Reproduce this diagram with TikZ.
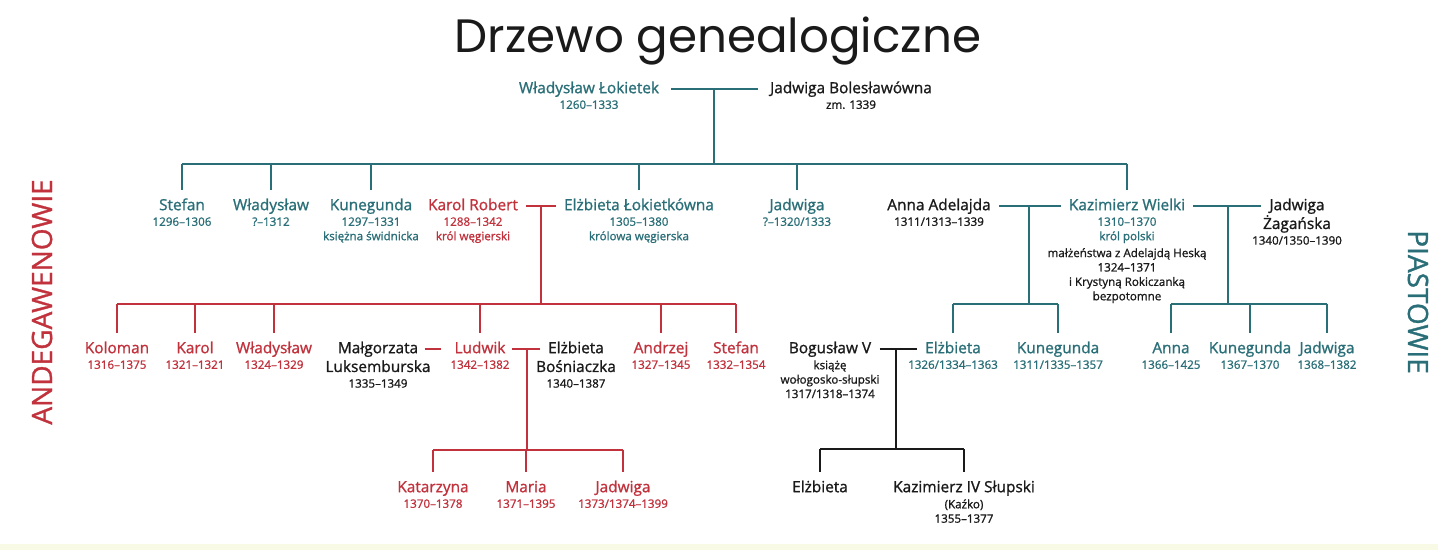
\documentclass[tikz,border=0pt]{standalone}
\usepackage{fontspec}
\setmainfont{Open Sans}[FakeBold=1.1]
\newfontfamily\titlefont{Poppins}
\usetikzlibrary{positioning}

\definecolor{piast}{HTML}{2A6F78}
\definecolor{andeg}{HTML}{C1323D}
\definecolor{ink}{HTML}{1A1A1A}
\definecolor{strip}{HTML}{F8FAE6}

\begin{document}
\begin{tikzpicture}[
  x=0.5pt, y=-0.5pt,
  pname/.style={font=\fontsize{7.7}{9}\selectfont, inner sep=1pt, text height=5.8pt, text depth=1.6pt},
  pinfo/.style={font=\fontsize{5.8}{7.2}\selectfont, align=center, inner sep=0pt},
  side/.style={font=\fontsize{14}{16}\selectfont},
  tline/.style={draw=piast, line width=0.8pt},
  rline/.style={draw=andeg, line width=0.8pt},
  kline/.style={draw=ink, line width=0.8pt},
  marr/.style={shorten <=3pt, shorten >=3pt},
  drop/.style={shorten >=3pt}
]
\useasboundingbox (0,0) rectangle (1438,550);
\fill[white] (0,0) rectangle (1438,550);
\fill[strip] (0,544) rectangle (1438,550);

% Title and side labels
\node[font=\titlefont\fontsize{23.4}{28}\selectfont, text=ink] (title) at (718,41) {Drzewo genealogiczne};
\node[side, text=andeg, rotate=90] (andeg-lab) at (42,302) {ANDEGAWENOWIE};
\node[side, text=piast, rotate=-90] (piast-lab) at (1418,302) {PIASTOWIE};

% First couple
\node[pname, text=piast] (lokietek) at (589,89) {Władysław Łokietek};
\node[pinfo, text=piast, below=0.6pt of lokietek] (lokietek-i) {1260–1333};
\node[pname, text=ink] (jadbol) at (851,89) {Jadwiga Bolesławówna};
\node[pinfo, text=ink, below=0.6pt of jadbol] (jadbol-i) {zm. 1339};

\coordinate (m1) at (714,89);
\coordinate (bar1) at (714,164);
\draw[tline, shorten <=5pt, shorten >=5pt] (lokietek) -- (jadbol);
\draw[tline] (m1) -- (bar1);

% Children of Lokietek
\node[pname, text=piast] (stefan) at (182,206) {Stefan};
\node[pinfo, text=piast, below=0.6pt of stefan] (stefan-i) {1296–1306};
\node[pname, text=piast] (wladys) at (271,206) {Władysław};
\node[pinfo, text=piast, below=0.6pt of wladys] (wladys-i) {?–1312};
\node[pname, text=piast] (kuneg) at (371,206) {Kunegunda};
\node[pinfo, text=piast, below=0.6pt of kuneg] (kuneg-i) {1297–1331\\księżna świdnicka};
\node[pname, text=andeg] (karol) at (473,206) {Karol Robert};
\node[pinfo, text=andeg, below=0.6pt of karol] (karol-i) {1288–1342\\król węgierski};
\node[pname, text=piast] (elzlok) at (639,206) {Elżbieta Łokietkówna};
\node[pinfo, text=piast, below=0.6pt of elzlok] (elzlok-i) {1305–1380\\królowa węgierska};
\node[pname, text=piast] (jadw) at (797,206) {Jadwiga};
\node[pinfo, text=piast, below=0.6pt of jadw] (jadw-i) {?–1320/1333};
\node[pname, text=ink] (anna) at (939,206) {Anna Adelajda};
\node[pinfo, text=ink, below=0.6pt of anna] (anna-i) {1311/1313–1339};
\node[pname, text=piast] (kazw) at (1127,206) {Kazimierz Wielki};
\node[pinfo, text=piast, below=0.6pt of kazw] (kazw-i) {1310–1370\\król polski};
\node[pinfo, text=ink, below=2.2pt of kazw-i] (kazw-n) {małżeństwa z Adelajdą Heską\\1324–1371\\i Krystyną Rokiczanką\\bezpotomne};
\node[pname, text=ink] (jadzag) at (1297,206) {Jadwiga};
\node[pname, text=ink, below=-0.4pt of jadzag] (jadzag-2) {Żagańska};
\node[pinfo, text=ink, below=0.6pt of jadzag-2] (jadzag-i) {1340/1350–1390};

\draw[tline] (stefan.north |- bar1) -- (kazw.north |- bar1);
\foreach \n in {stefan,wladys,kuneg,elzlok,jadw,kazw}
  \draw[tline, drop] (\n.north |- bar1) -- (\n.north);

% Karol Robert + Elzbieta
\coordinate (m2) at (541,206);
\coordinate (bar2) at (541,304);
\draw[rline, marr] (karol) -- (elzlok);
\draw[rline] (m2) -- (bar2);

% Kazimierz + Anna, Kazimierz + Jadwiga
\coordinate (m3) at (1029,206);
\coordinate (bar3) at (1029,304);
\draw[tline, marr] (anna) -- (kazw);
\draw[tline] (m3) -- (bar3);
\coordinate (m6) at (1228,206);
\coordinate (bar6) at (1228,304);
\draw[tline, marr] (kazw) -- (jadzag);
\draw[tline] (m6) -- (bar6);

% Andegawenowie
\node[pname, text=andeg] (kolo) at (117,349) {Koloman};
\node[pinfo, text=andeg, below=0.6pt of kolo] (kolo-i) {1316–1375};
\node[pname, text=andeg] (karolj) at (195,349) {Karol};
\node[pinfo, text=andeg, below=0.6pt of karolj] (karolj-i) {1321–1321};
\node[pname, text=andeg] (wladj) at (274,349) {Władysław};
\node[pinfo, text=andeg, below=0.6pt of wladj] (wladj-i) {1324–1329};
\node[pname, text=ink] (malg) at (378,349) {Małgorzata};
\node[pname, text=ink, below=-0.4pt of malg] (malg-2) {Luksemburska};
\node[pinfo, text=ink, below=0.6pt of malg-2] (malg-i) {1335–1349};
\node[pname, text=andeg] (ludwik) at (480,349) {Ludwik};
\node[pinfo, text=andeg, below=0.6pt of ludwik] (ludwik-i) {1342–1382};
\node[pname, text=ink] (elzbos) at (576,349) {Elżbieta};
\node[pname, text=ink, below=-0.4pt of elzbos] (elzbos-2) {Bośniaczka};
\node[pinfo, text=ink, below=0.6pt of elzbos-2] (elzbos-i) {1340–1387};
\node[pname, text=andeg] (andrzej) at (661,349) {Andrzej};
\node[pinfo, text=andeg, below=0.6pt of andrzej] (andrzej-i) {1327–1345};
\node[pname, text=andeg] (stefj) at (736,349) {Stefan};
\node[pinfo, text=andeg, below=0.6pt of stefj] (stefj-i) {1332–1354};

\draw[rline] (kolo.north |- bar2) -- (stefj.north |- bar2);
\foreach \n in {kolo,karolj,wladj,ludwik,andrzej,stefj}
  \draw[rline, drop] (\n.north |- bar2) -- (\n.north);
\draw[rline, shorten <=2pt, shorten >=5.5pt] (malg) -- (ludwik);

% Ludwik + Elzbieta Bosniaczka
\coordinate (m4) at (527,349);
\coordinate (bar4) at (527,450);
\draw[rline, shorten <=2pt, shorten >=3pt] (ludwik) -- (elzbos);
\draw[rline] (m4) -- (bar4);

\node[pname, text=andeg] (kata) at (433,488) {Katarzyna};
\node[pinfo, text=andeg, below=0.6pt of kata] (kata-i) {1370–1378};
\node[pname, text=andeg] (maria) at (526,488) {Maria};
\node[pinfo, text=andeg, below=0.6pt of maria] (maria-i) {1371–1395};
\node[pname, text=andeg] (jadl) at (623,488) {Jadwiga};
\node[pinfo, text=andeg, below=0.6pt of jadl] (jadl-i) {1373/1374–1399};

\draw[rline] (kata.north |- bar4) -- (jadl.north |- bar4);
\foreach \n in {kata,maria,jadl}
  \draw[rline, drop] (\n.north |- bar4) -- (\n.north);

% Piastowie: daughters of Kazimierz
\node[pname, text=ink] (bogus) at (830,349) {Bogusław V};
\node[pinfo, text=ink, below=0.6pt of bogus] (bogus-i) {książę\\wołogosko-słupski\\1317/1318–1374};
\node[pname, text=piast] (elzb) at (953,349) {Elżbieta};
\node[pinfo, text=piast, below=0.6pt of elzb] (elzb-i) {1326/1334–1363};
\node[pname, text=piast] (kunb) at (1058,349) {Kunegunda};
\node[pinfo, text=piast, below=0.6pt of kunb] (kunb-i) {1311/1335–1357};
\node[pname, text=piast] (annk) at (1171,349) {Anna};
\node[pinfo, text=piast, below=0.6pt of annk] (annk-i) {1366–1425};
\node[pname, text=piast] (kunk) at (1250,349) {Kunegunda};
\node[pinfo, text=piast, below=0.6pt of kunk] (kunk-i) {1367–1370};
\node[pname, text=piast] (jadk) at (1327,349) {Jadwiga};
\node[pinfo, text=piast, below=0.6pt of jadk] (jadk-i) {1368–1382};

\draw[tline] (elzb.north |- bar3) -- (kunb.north |- bar3);
\foreach \n in {elzb,kunb}
  \draw[tline, drop] (\n.north |- bar3) -- (\n.north);
\draw[tline] (annk.north |- bar6) -- (jadk.north |- bar6);
\foreach \n in {annk,kunk,jadk}
  \draw[tline, drop] (\n.north |- bar6) -- (\n.north);

% Boguslaw + Elzbieta
\coordinate (m5) at (896,349);
\coordinate (bar5) at (896,449);
\draw[kline, marr] (bogus) -- (elzb);
\draw[kline] (m5) -- (bar5);

\node[pname, text=ink] (elzs) at (820,488) {Elżbieta};
\node[pname, text=ink] (kazs) at (964,488) {Kazimierz IV Słupski};
\node[pinfo, text=ink, below=0.6pt of kazs] (kazs-i) {(Kaźko)\\1355–1377};

\draw[kline] (elzs.north |- bar5) -- (kazs.north |- bar5);
\foreach \n in {elzs,kazs}
  \draw[kline, drop] (\n.north |- bar5) -- (\n.north);

\end{tikzpicture}
\end{document}
